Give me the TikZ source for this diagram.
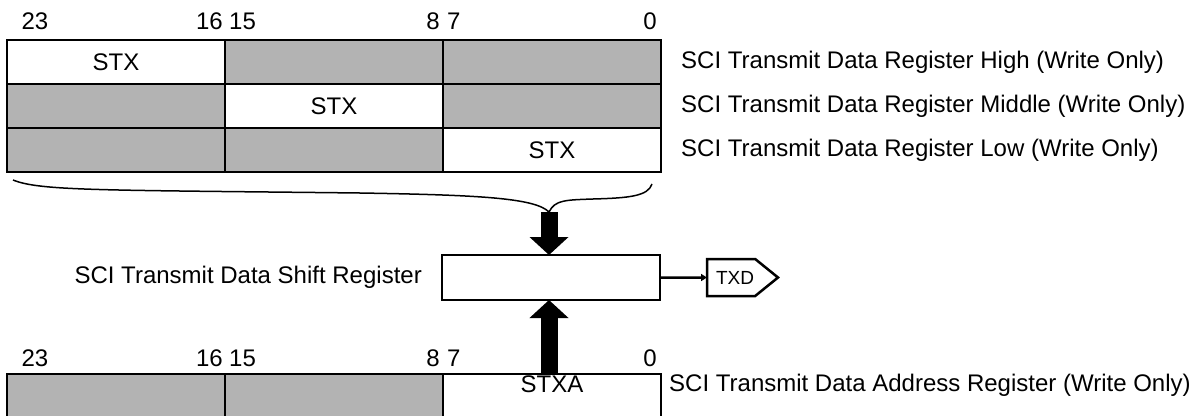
\documentclass[tikz,border=0pt]{standalone}
\usepackage{fontspec}
\setmainfont{Liberation Sans}
\usetikzlibrary{arrows.meta,positioning,shapes.symbols}
\definecolor{reggray}{HTML}{B3B3B3}

\begin{document}
\begin{tikzpicture}[x=1pt,y=-1pt,
    cell/.style={draw,line width=2.5pt,minimum width=218pt,minimum height=44pt,inner sep=0pt,outer sep=0pt,
      font=\fontsize{24}{28}\selectfont},
    wcell/.style={cell,fill=white},
    gcell/.style={cell,fill=reggray},
    lbl/.style={inner sep=0pt,font=\fontsize{24}{28}\selectfont},
    pin/.style={signal,signal to=east,signal pointer angle=78,draw,line width=2.5pt,inner sep=0pt,outer sep=0pt,
      minimum width=71pt,minimum height=37pt,font=\fontsize{19}{22}\selectfont},
    fatarr/.style={-{Triangle[width=38pt,length=18pt]},line width=17pt},
    arr/.style={-{Triangle[length=6pt,width=7pt]},line width=2.5pt},
    brace/.style={line width=1.5pt}]
  \useasboundingbox (0,0) rectangle (1190,415);
  \clip (0,0) rectangle (1190,415);
  % STX registers (high / middle / low)
  \node[wcell] (h1) at (116,62) {STX};
  \node[gcell,right=0pt of h1] (h2) {};
  \node[gcell,right=0pt of h2] (h3) {};
  \node[gcell,below=0pt of h1] (m1) {};
  \node[wcell,right=0pt of m1] (m2) {STX};
  \node[gcell,right=0pt of m2] (m3) {};
  \node[gcell,below=0pt of m1] (l1) {};
  \node[gcell,right=0pt of l1] (l2) {};
  \node[wcell,right=0pt of l2] (l3) {STX};
  \node[lbl,right=20pt of h3] (lblh) {SCI Transmit Data Register High (Write Only)};
  \node[lbl,right=20pt of m3] (lblm) {SCI Transmit Data Register Middle (Write Only)};
  \node[lbl,right=20pt of l3] (lbll) {SCI Transmit Data Register Low (Write Only)};
  % STXA register
  \node[gcell,minimum height=60pt] (a1) at (116,404) {};
  \node[gcell,minimum height=60pt,right=0pt of a1] (a2) {};
  \node[wcell,minimum height=60pt,right=0pt of a2] (a3) {};
  \node[lbl,below=2pt of a3.north] (stxa) {STXA};
  \node[lbl,anchor=west] (lbla) at ([xshift=8pt,yshift=-11pt]a3.north east) {SCI Transmit Data Address Register (Write Only)};
  % bit numbers
  \foreach \y/\n in {21/t,358/b}{
    \node[lbl] (\n23) at (35,\y) {23};
    \node[lbl,anchor=east] (\n16) at (223,\y) {16};
    \node[lbl,anchor=west] (\n15) at (229,\y) {15};
    \node[lbl,anchor=east] (\n8) at (440,\y) {8};
    \node[lbl,anchor=west] (\n7) at (447,\y) {7};
    \node[lbl,anchor=east] (\n0) at (657,\y) {0};
  }
  % shift register and output pin
  \node[cell,minimum height=45pt] (shift) at (551,277.5) {};
  \node[lbl,left=20pt of shift] (shiftlbl) {SCI Transmit Data Shift Register};
  \node[pin,right=47pt of shift] (txd) {\hspace*{8pt}TXD};
  \draw[arr] (shift) -- (txd);
  % brace and transfers
  \coordinate (tip) at (549,212);
  \draw[brace] (13,180) .. controls (40,191) and (100,190) .. (360,193)
    .. controls (480,195) and (535,198) .. (tip)
    .. controls (555,200) and (565,200) .. (593,199)
    .. controls (630,198) and (648,196) .. (652,184);
  \draw[fatarr] (tip) -- (tip |- shift.north);
  \draw[fatarr] (tip |- a3.north) -- (tip |- shift.south);
\end{tikzpicture}
\end{document}
